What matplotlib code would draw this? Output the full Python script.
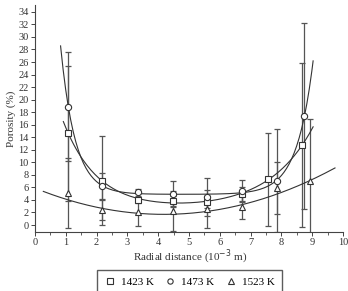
import matplotlib
matplotlib.use("Agg")
import matplotlib.pyplot as plt
import numpy as np

plt.rcParams['font.family'] = ['Liberation Serif', 'DejaVu Serif']

# measured porosity (%) vs radial distance (10^-3 m)
x_1423 = [1.08, 2.19, 3.33, 4.47, 5.60, 6.71, 7.58, 8.68]
y_1423 = [14.6, 7.1, 4.0, 3.9, 3.7, 4.9, 7.3, 12.8]
e_1423 = [10.7, 7.1, 0.5, 0.8, 1.0, 1.2, 7.4, 13.1]

x_1473 = [1.08, 2.19, 3.33, 4.47, 5.60, 6.71, 7.85, 8.75]
y_1473 = [18.9, 6.2, 5.2, 4.9, 4.5, 5.5, 7.1, 17.4]
e_1473 = [8.7, 2.1, 0.6, 2.1, 3.0, 1.7, 8.2, 14.8]

x_1523 = [1.08, 2.19, 3.33, 4.47, 5.60, 6.71, 7.85, 8.93]
y_1523 = [5.1, 2.4, 2.1, 2.2, 2.6, 2.8, 5.9, 7.1]
e_1523 = [5.6, 1.6, 2.2, 3.2, 3.0, 1.8, 4.1, 9.8]

labels = ['1423 K', '1473 K', '1523 K']
markers = ['s', 'o', '^']
fit_range = [(0.92, 9.03), (0.83, 9.03), (0.27, 9.74)]


def fit_two_exp(xs, ys):
    # y = a*exp(-k1 x) + c + d*exp(k2 x), rates picked by grid search
    xs = np.asarray(xs)
    ys = np.asarray(ys)
    best = None
    for k1 in np.linspace(0.1, 3.0, 59):
        for k2 in np.linspace(0.1, 3.0, 59):
            A = np.column_stack([np.exp(-k1 * xs), np.ones_like(xs), np.exp(k2 * (xs - 9))])
            coef, *_ = np.linalg.lstsq(A, ys, rcond=None)
            r = np.sum((A @ coef - ys) ** 2)
            if best is None or r < best[0]:
                best = (r, k1, k2, coef)
    _, k1, k2, coef = best
    return lambda x: coef[0] * np.exp(-k1 * x) + coef[1] + coef[2] * np.exp(k2 * (x - 9))


def fit_quad(xs, ys, es):
    coef = np.polyfit(xs, ys, 2, w=1 / np.asarray(es))
    return lambda x: np.polyval(coef, x)


fig = plt.figure(figsize=(3.48, 2.91), dpi=100)
ax = fig.add_axes([0.1006, 0.203, 0.885, 0.78])

series = [(x_1423, y_1423, e_1423), (x_1473, y_1473, e_1473), (x_1523, y_1523, e_1523)]
handles = []
for i, ((xs, ys, es), lab, mk, rng) in enumerate(zip(series, labels, markers, fit_range)):
    ax.errorbar(xs, ys, yerr=es, fmt='none', ecolor='#555555', elinewidth=0.9,
                capsize=2.5, capthick=0.9, zorder=1)
    h, = ax.plot(xs, ys, linestyle='none', marker=mk, markersize=4.5,
                 markerfacecolor='white', markeredgecolor='#333333',
                 markeredgewidth=0.8, label=lab, zorder=3)
    handles.append(h)
    f = fit_quad(xs, ys, es) if i == 2 else fit_two_exp(xs, ys)
    xx = np.linspace(rng[0], rng[1], 200)
    ax.plot(xx, f(xx), color='#333333', lw=0.8, zorder=2)

ax.set_xlim(0, 10)
ax.set_ylim(-1.1, 35.1)
ax.set_xticks(range(0, 11))
ax.set_xticks(np.arange(0.5, 10, 0.5), minor=True)
ax.set_yticks(range(0, 35, 2))
ax.spines['top'].set_visible(False)
ax.spines['right'].set_visible(False)
for s in ['left', 'bottom']:
    ax.spines[s].set_color('#444444')
    ax.spines[s].set_linewidth(0.8)
ax.tick_params(axis='both', which='major', labelsize=7.5, length=3, width=0.7,
               colors='#444444', labelcolor='#333333', pad=1.5)
ax.tick_params(axis='x', which='minor', length=2, width=0.6, colors='#444444')

ax.set_xlabel('Radial distance (10$^{-3}$ m)', fontsize=8, color='#333333')
ax.xaxis.set_label_coords(0.505, -0.11)
ax.xaxis.label.set_va('center')
ax.set_ylabel('Porosity (%)', fontsize=8, color='#333333', labelpad=2)

fig.legend(handles=handles, labels=labels, loc='center', bbox_to_anchor=(0.545, 0.03),
           ncol=3, fontsize=8, frameon=True, fancybox=False, edgecolor='#333333',
           handlelength=1.0, handletextpad=0.5, columnspacing=1.0, borderpad=0.65,
           markerscale=0.85)

fig.savefig('out.png', dpi=100)
